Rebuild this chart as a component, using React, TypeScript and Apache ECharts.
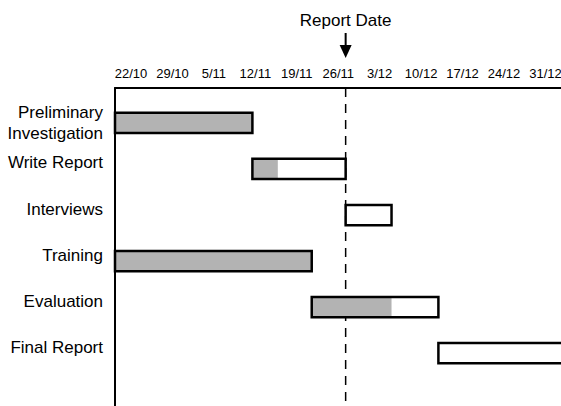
import React, { useEffect, useRef } from "react";
import * as echarts from "echarts";

const categories = [
  "Preliminary\nInvestigation",
  "Write Report",
  "Interviews",
  "Training",
  "Evaluation",
  "Final Report",
];
const taskStart = [
  "2007-10-15T00:00",
  "2007-11-11T12:00",
  "2007-11-27T06:00",
  "2007-10-15T00:00",
  "2007-11-21T12:30",
  "2007-12-12T22:00",
];
const taskProgress = [
  "2007-11-11T12:00",
  "2007-11-15T19:00",
  "2007-11-27T06:00",
  "2007-11-21T12:30",
  "2007-12-05T00:00",
  "2007-12-12T22:00",
];
const taskEnd = [
  "2007-11-11T12:00",
  "2007-11-27T06:00",
  "2007-12-05T00:00",
  "2007-11-21T12:30",
  "2007-12-12T22:00",
  "2008-01-20T00:00",
];
const tickDates = [
  "2007-10-22T00:00",
  "2007-10-29T00:00",
  "2007-11-05T00:00",
  "2007-11-12T00:00",
  "2007-11-19T00:00",
  "2007-11-26T00:00",
  "2007-12-03T00:00",
  "2007-12-10T00:00",
  "2007-12-17T00:00",
  "2007-12-24T00:00",
  "2007-12-31T00:00",
];
const tickLabels = ["22/10", "29/10", "5/11", "12/11", "19/11", "26/11", "3/12", "10/12", "17/12", "24/12", "31/12"];
const reportDate = "2007-11-27T06:00";
const reportLabel = "Report Date";

const axisStart = "2007-10-19T07:00";
const axisEnd = "2008-01-02T15:00";

const toMs = (s: string) => Date.parse(s + ":00Z");

const FONT = "'Liberation Sans', Arial, Helvetica, sans-serif";
const Y_MIN = 0.24;
const Y_MAX = 7.15;

export default function App() {
  const ref = useRef<HTMLDivElement>(null);
  useEffect(() => {
    if (!ref.current) return;
    const chart = echarts.init(ref.current, null, { renderer: "svg" });
    const tickMs = tickDates.map(toMs);
    const data = categories.map((_, i) => [
      toMs(taskStart[i]),
      toMs(taskProgress[i]),
      toMs(taskEnd[i]),
      i + 1,
    ]);
    const reportMs = toMs(reportDate);
    const option: any = {
      animation: false,
      textStyle: { fontFamily: FONT },
      grid: {
        left: 115,
        top: 88,
        right: 0,
        bottom: 0,
        containLabel: false,
        outerBoundsMode: "none",
      },
      xAxis: {
        type: "value",
        position: "top",
        min: toMs(axisStart),
        max: toMs(axisEnd),
        splitLine: { show: false },
        axisTick: { show: false },
        axisLine: { show: true, lineStyle: { color: "#000", width: 2 } },
        axisLabel: {
          customValues: tickMs,
          margin: 8,
          fontSize: 13,
          color: "#000",
          fontFamily: FONT,
          hideOverlap: false,
          formatter: (v: number) => {
            const i = tickMs.indexOf(v);
            return i >= 0 ? tickLabels[i] : "";
          },
        },
      },
      yAxis: {
        type: "value",
        inverse: true,
        min: Y_MIN,
        max: Y_MAX,
        splitLine: { show: false },
        axisTick: { show: false },
        axisLine: { show: true, onZero: false, lineStyle: { color: "#000", width: 2 } },
        axisLabel: {
          customValues: categories.map((_, i) => i + 1),
          margin: 12,
          fontSize: 17,
          lineHeight: 21,
          color: "#000",
          fontFamily: FONT,
          formatter: (v: number) => {
            const name = categories[Math.round(v) - 1];
            if (!name) return "";
            return name.indexOf("\n") >= 0 ? name : `{s|${name}}`;
          },
          rich: {
            s: { fontSize: 17, fontFamily: FONT, color: "#000", padding: [0, 0, 12, 0] },
          },
        },
      },
      series: [
        {
          type: "line",
          z: 1,
          symbol: "none",
          data: [
            [reportMs, Y_MIN],
            [reportMs, Y_MAX],
          ],
          lineStyle: { color: "#000", width: 1.5, type: [9, 7] },
        },
        {
          type: "custom",
          z: 2,
          encode: { x: [0, 1, 2], y: 3 },
          data,
          renderItem: (params: any, api: any) => {
            const y = api.value(3);
            const s = api.coord([api.value(0), y]);
            const p = api.coord([api.value(1), y]);
            const e = api.coord([api.value(2), y]);
            const h = api.size([0, 1])[1] * 0.44;
            const cs = params.coordSys;
            const clip = { x: cs.x, y: cs.y, width: cs.width + 20, height: cs.height };
            const full = echarts.graphic.clipRectByRect(
              { x: s[0], y: s[1] - h / 2, width: e[0] - s[0], height: h },
              clip
            );
            const prog = echarts.graphic.clipRectByRect(
              { x: s[0], y: s[1] - h / 2, width: p[0] - s[0], height: h },
              clip
            );
            const children: any[] = [];
            if (full) children.push({ type: "rect", shape: full, style: { fill: "#fff" } });
            if (prog && prog.width > 0)
              children.push({ type: "rect", shape: prog, style: { fill: "#b3b3b3" } });
            if (full)
              children.push({
                type: "rect",
                shape: full,
                style: { fill: "none", stroke: "#000", lineWidth: 2.5 },
              });
            return { type: "group", children };
          },
        },
      ],
    };
    chart.setOption(option);
    const px = chart.convertToPixel({ xAxisIndex: 0 }, reportMs) as number;
    chart.setOption({
      graphic: [
        {
          type: "text",
          x: px,
          y: 20,
          style: {
            text: reportLabel,
            fontSize: 17,
            fontFamily: FONT,
            fill: "#000",
            align: "center",
            verticalAlign: "middle",
          },
        },
        {
          type: "line",
          shape: { x1: px, y1: 33, x2: px, y2: 47 },
          style: { stroke: "#000", lineWidth: 2 },
        },
        {
          type: "polygon",
          shape: { points: [[px - 6, 45], [px + 6, 45], [px, 58]] },
          style: { fill: "#000" },
        },
      ],
    });
    return () => chart.dispose();
  }, []);
  return (
    <div
      ref={ref}
      style={{ position: "fixed", left: 0, top: 0, width: 561, height: 406, background: "#fff" }}
    />
  );
}
